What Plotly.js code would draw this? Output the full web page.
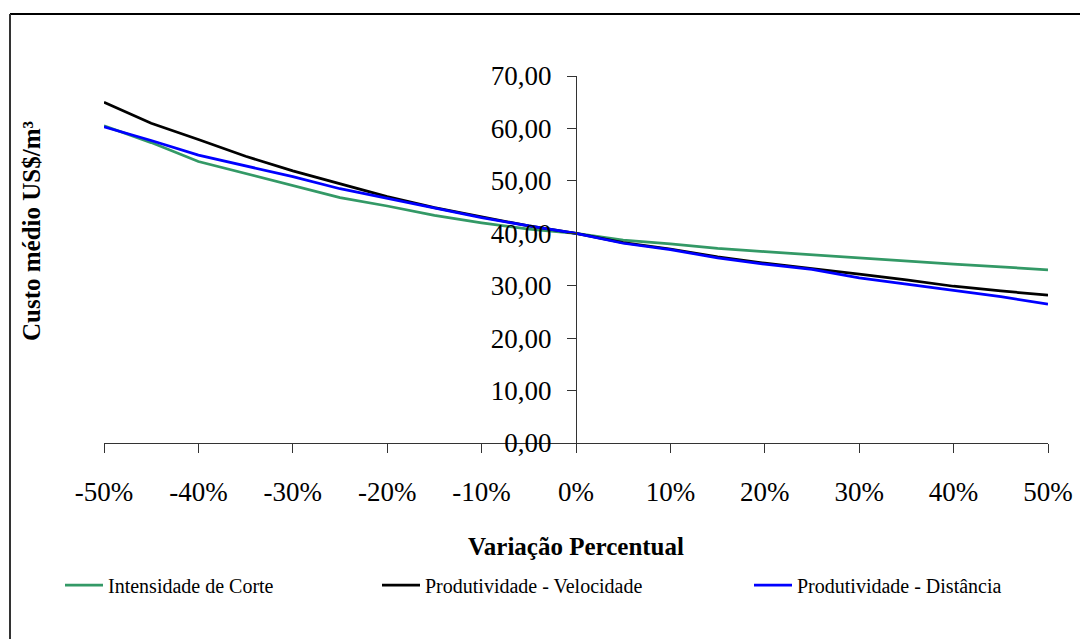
<!DOCTYPE html>
<html>
<head>
<meta charset="utf-8">
<script src="https://cdn.plot.ly/plotly-3.0.1.min.js"></script>
<style>
  html, body { margin: 0; padding: 0; background: #fff; }
  #chart { width: 1080px; height: 639px; }
</style>
</head>
<body>
<div id="chart"></div>
<script>
// Variação percentual (x)
const variacao = [-0.50, -0.45, -0.40, -0.35, -0.30, -0.25, -0.20, -0.15, -0.10, -0.05, 0.00,
                  0.05, 0.10, 0.15, 0.20, 0.25, 0.30, 0.35, 0.40, 0.45, 0.50];

// Custo médio US$/m³ per series
const intensidadeCorte = [60.5, 57.3, 53.7, 51.4, 49.0, 46.8, 45.2, 43.4, 42.0, 40.8, 40.0,
                          38.7, 38.0, 37.1, 36.5, 35.9, 35.2, 34.6, 34.1, 33.6, 33.0];
const prodVelocidade   = [65.0, 61.0, 57.9, 54.7, 51.9, 49.4, 47.0, 44.9, 43.2, 41.4, 40.0,
                          38.2, 37.0, 35.5, 34.3, 33.3, 32.2, 31.1, 29.9, 29.0, 28.2];
const prodDistancia    = [60.3, 57.7, 54.9, 52.8, 50.8, 48.5, 46.7, 44.8, 43.0, 41.4, 40.0,
                          38.1, 36.9, 35.3, 34.1, 33.1, 31.5, 30.3, 29.1, 27.9, 26.5];

const seriesNames = ["Intensidade de Corte", "Produtividade - Velocidade", "Produtividade - Distância"];

const xTickVals = [-0.5, -0.4, -0.3, -0.2, -0.1, 0, 0.1, 0.2, 0.3, 0.4, 0.5];
const xTickText = ["-50%", "-40%", "-30%", "-20%", "-10%", "0%", "10%", "20%", "30%", "40%", "50%"];

const FONT = "Liberation Serif";

const traces = [
  { x: variacao, y: intensidadeCorte, name: seriesNames[0], type: "scatter", mode: "lines",
    line: { color: "#339966", width: 2.75 }, legend: "legend" },
  { x: variacao, y: prodVelocidade, name: seriesNames[1], type: "scatter", mode: "lines",
    line: { color: "#000000", width: 2.75 }, legend: "legend2" },
  { x: variacao, y: prodDistancia, name: seriesNames[2], type: "scatter", mode: "lines",
    line: { color: "#0000ff", width: 2.75 }, legend: "legend3" }
];

const W = 1080, H = 639;
const L = 104, R = 32, T = 76, B = 196;
const pw = W - L - R, ph = H - T - B;
const px = v => (v - L) / pw;          // pixel -> paper x
const py = v => (H - B - v) / ph;      // pixel -> paper y

function legendAt(xPix) {
  return {
    orientation: "h", xref: "container", yref: "container",
    x: xPix / W, xanchor: "left", y: (H - 585) / H, yanchor: "middle",
    itemwidth: 38,
    font: { family: FONT, size: 20, color: "#000000" },
    bgcolor: "rgba(0,0,0,0)", borderwidth: 0
  };
}

const layout = {
  width: W, height: H,
  margin: { l: L, r: R, t: T, b: B, pad: 0 },
  paper_bgcolor: "#ffffff", plot_bgcolor: "#ffffff",
  separators: ",.",
  font: { family: FONT, color: "#000000" },
  showlegend: true,
  legend: legendAt(60),
  legend2: legendAt(377),
  legend3: legendAt(749),
  xaxis: {
    range: [-0.5, 0.5],
    tickvals: xTickVals, ticktext: xTickText,
    ticks: "outside", ticklen: 9, tickwidth: 1, tickcolor: "#333333",
    showline: true, linecolor: "#333333", linewidth: 1,
    showgrid: false, zeroline: false,
    tickfont: { family: FONT, size: 27, color: "#000000" },
    ticklabelstandoff: 16,
    title: { text: "<b>Variação Percentual</b>", font: { family: FONT, size: 25, color: "#000000" }, standoff: 31 },
    fixedrange: true
  },
  yaxis: {
    range: [0, 70], dtick: 10, tickformat: ".2f",
    anchor: "free", position: 0.5, side: "left",
    ticks: "outside", ticklen: 9, tickwidth: 1, tickcolor: "#333333",
    showline: true, linecolor: "#333333", linewidth: 1,
    showgrid: false, zeroline: false,
    tickfont: { family: FONT, size: 27, color: "#000000" },
    ticklabelstandoff: 10,
    fixedrange: true
  },
  annotations: [
    { text: "<b>Custo médio US$/m³</b>", textangle: -90,
      xref: "paper", yref: "paper", x: px(31), y: py(231),
      xanchor: "center", yanchor: "middle", showarrow: false,
      font: { family: FONT, size: 25, color: "#000000" } }
  ],
  shapes: [
    { type: "line", xref: "paper", yref: "paper", x0: px(10), x1: px(1085), y0: py(14), y1: py(14),
      line: { color: "#000000", width: 2 } },
    { type: "line", xref: "paper", yref: "paper", x0: px(10), x1: px(10), y0: py(14), y1: py(645),
      line: { color: "#333333", width: 2 } }
  ]
};

Plotly.newPlot("chart", traces, layout, { displayModeBar: false, staticPlot: true });
</script>
</body>
</html>
